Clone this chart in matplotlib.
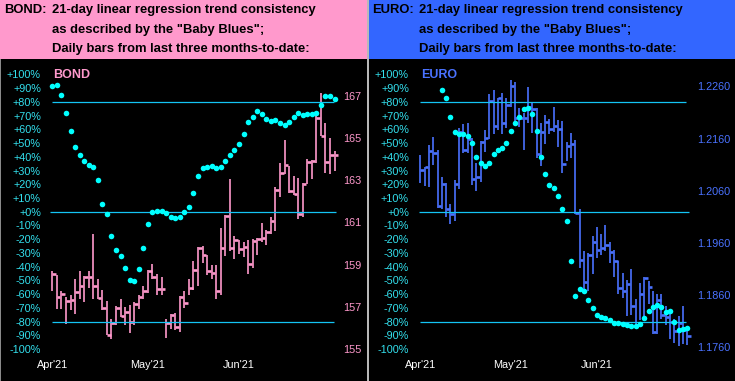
import matplotlib
matplotlib.use('Agg')
import matplotlib.pyplot as plt
from matplotlib.patches import Rectangle
import numpy as np

plt.rcParams['font.family'] = ['Liberation Sans', 'DejaVu Sans']

# x axis: trading day index of the first bar of each month
month_labels = ["Apr'21", "May'21", "Jun'21"]
month_starts = [0, 21, 41]

# BOND daily bars (high / low / close) and "Baby Blues" (%)
bond_high = [158.68, 158.49, 157.73, 157.46, 157.54, 158.30, 158.68, 158.44, 158.68, 160.45,
             158.33, 157.78, 157.26, 156.40, 157.03, 157.38, 156.99, 157.07, 157.22, 157.54,
             157.98, 158.72, 159.03, 158.55, 158.41, 156.43, 156.64, 156.70, 157.49, 157.76,
             158.31, 159.15, 159.83, 159.88, 159.44, 158.96, 158.96, 160.73, 161.33, 163.05,
             160.35, 160.15, 160.05, 160.15, 160.21, 160.26, 160.97, 160.62, 161.25, 162.68,
             163.81, 164.90, 163.67, 163.20, 163.10, 162.85, 163.99, 163.94, 166.23, 167.13,
             165.71, 165.00, 164.37]
bond_low = [157.76, 156.91, 156.91, 156.20, 156.83, 156.67, 157.35, 157.22, 157.89, 157.38,
            157.35, 156.83, 155.64, 155.45, 156.12, 156.51, 156.12, 155.77, 156.15, 156.91,
            157.35, 157.67, 158.33, 157.54, 157.54, 155.52, 155.96, 155.88, 155.80, 156.96,
            157.54, 157.78, 157.98, 159.09, 158.52, 158.30, 157.38, 157.54, 159.40, 159.64,
            159.28, 159.48, 159.36, 158.57, 158.85, 159.47, 160.07, 159.94, 160.43, 160.61,
            162.22, 163.31, 162.41, 162.28, 161.17, 161.25, 162.83, 163.07, 163.83, 165.09,
            163.35, 163.31, 163.45]
bond_close = [158.54, 157.48, 157.62, 157.26, 157.33, 157.71, 157.99, 158.42, 158.42, 157.99,
              157.43, 156.96, 155.68, 156.24, 156.96, 156.58, 156.77, 156.29, 157.15, 157.45,
              157.75, 158.68, 158.41, 157.86, 157.86, 156.24, 156.62, 156.04, 157.46, 157.19,
              157.90, 158.76, 159.80, 159.47, 158.69, 158.61, 157.75, 159.80, 161.28, 159.80,
              160.18, 159.74, 159.85, 159.04, 160.13, 160.23, 160.27, 160.56, 161.08, 162.55,
              163.35, 163.73, 162.50, 162.34, 161.41, 162.83, 163.84, 163.92, 165.96, 165.11,
              163.84, 164.21, 164.21]
bond_blues = [91.8, 92.6, 85.3, 72.2, 59.1, 47.5, 41.7, 36.8, 33.7, 32.9,
              22.8, 6.0, -2.0, -17.7, -27.9, -32.5, -41.2, -50.0, -50.7, -41.7,
              -26.5, -9.0, -0.3, 0.5, 0.5, -1.0, -3.9, -4.6, -3.9, -0.3,
              3.4, 13.5, 25.9, 31.7, 32.5, 33.2, 31.7, 32.5, 36.8, 41.2,
              44.8, 49.2, 56.6, 65.2, 68.8, 73.2, 71.0, 67.4, 65.9, 66.6,
              64.5, 63.0, 65.2, 68.8, 71.7, 70.3, 71.0, 71.0, 71.7, 77.5,
              84.1, 84.1, 81.9]

# EURO daily bars (high / low / close) and "Baby Blues" (%)
euro_high = [1.21288, 1.21065, 1.21480, 1.21639, 1.21384, 1.20874, 1.20747, 1.20346, 1.20811, 1.21811,
             1.21881, 1.21906, 1.21607, 1.21142, 1.21556, 1.21766, 1.22448, 1.22537, 1.22384, 1.22480,
             1.22384, 1.22722, 1.22690, 1.22193, 1.22085, 1.22594, 1.22295, 1.22193, 1.21906, 1.22053,
             1.21976, 1.22212, 1.21957, 1.21938, 1.21543, 1.21715, 1.21575, 1.20256, 1.19441, 1.19416,
             1.19728, 1.19900, 1.19766, 1.19951, 1.19626, 1.19473, 1.19263, 1.19021, 1.18900, 1.19110,
             1.18524, 1.18830, 1.18944, 1.18868, 1.18677, 1.18619, 1.18626, 1.18390, 1.18333, 1.18141,
             1.18199, 1.18403, 1.18008]
euro_low = [1.20747, 1.20702, 1.20683, 1.21097, 1.20269, 1.20250, 1.20091, 1.19963, 1.20014, 1.20632,
            1.21320, 1.21320, 1.20715, 1.20588, 1.20779, 1.21352, 1.21594, 1.21683, 1.21766, 1.21683,
            1.21798, 1.22199, 1.21894, 1.21817, 1.21384, 1.21894, 1.21702, 1.21225, 1.21078, 1.21492,
            1.21683, 1.21734, 1.21448, 1.20938, 1.21180, 1.21237, 1.20155, 1.19123, 1.18677, 1.18677,
            1.19008, 1.19314, 1.19377, 1.19441, 1.19218, 1.18944, 1.18632, 1.18549, 1.18212, 1.18231,
            1.18008, 1.18135, 1.18135, 1.18435, 1.17861, 1.17849, 1.18142, 1.18040, 1.17759, 1.17689,
            1.17638, 1.17670, 1.17645]
euro_close = [1.21002, 1.21053, 1.21371, 1.21320, 1.20301, 1.20734, 1.20256, 1.20148, 1.20734, 1.21734,
              1.21384, 1.21594, 1.20823, 1.20874, 1.21543, 1.21607, 1.22314, 1.21843, 1.22371, 1.21894,
              1.22238, 1.22601, 1.21989, 1.21989, 1.21989, 1.22199, 1.22161, 1.21314, 1.21722, 1.21925,
              1.21779, 1.21836, 1.21779, 1.21110, 1.21454, 1.21492, 1.20174, 1.19269, 1.18855, 1.19377,
              1.19619, 1.19467, 1.19505, 1.19562, 1.19422, 1.19250, 1.18740, 1.18677, 1.18823, 1.18403,
              1.18040, 1.18626, 1.18932, 1.18760, 1.17899, 1.18511, 1.18218, 1.18180, 1.18097, 1.17925,
              1.18072, 1.17944, 1.17823]
euro_blues = [np.nan, np.nan, np.nan, np.nan, np.nan, 88.9, 82.6, 68.8, 57.9, 56.7,
              56.7, 55.0, 49.9, 40.2, 35.4, 33.2, 35.4, 41.9, 44.8, 46.3,
              49.9, 58.6, 64.5, 68.8, 74.6, 75.4, 71.0, 58.6, 40.2, 27.4,
              19.4, 17.2, 11.4, 1.9, -6.8, -35.9, -61.4, -56.3, -57.7, -64.3,
              -70.1, -75.2, -76.6, -77.4, -78.8, -81.0, -81.0, -81.7, -82.5, -83.2,
              -83.2, -81.7, -77.4, -72.3, -69.4, -67.9, -69.4, -73.0, -72.3, -80.3,
              -86.1, -85.4, -84.6]

pct_ticks = list(range(-100, 101, 10))
bond_ticks = [155, 157, 159, 161, 163, 165, 167]
euro_ticks = [1.1760, 1.1860, 1.1960, 1.2060, 1.2160, 1.2260]

W, H = 735, 381
PINK = '#ff99cc'
BLUE = '#3366ff'
CYAN_TXT = '#33e0ee'
DOT = '#00ffff'
LINE = '#14c4f4'

fig = plt.figure(figsize=(W / 100, H / 100), dpi=100, facecolor='black')


def fx(px):
    return px / W


def fy(py):
    return 1 - py / H


# header strips
fig.add_artist(Rectangle((0, fy(59)), fx(367), 59 / H, transform=fig.transFigure,
                         facecolor=PINK, edgecolor='none'))
fig.add_artist(Rectangle((fx(369), fy(59)), fx(W - 369), 59 / H, transform=fig.transFigure,
                         facecolor=BLUE, edgecolor='none'))
fig.add_artist(Rectangle((fx(367), 0), fx(2), 1, transform=fig.transFigure,
                         facecolor='#b8b8b8', edgecolor='none'))
fig.add_artist(Rectangle((0, 0), fx(1), fy(59), transform=fig.transFigure,
                         facecolor='#8a8a8a', edgecolor='none'))

lines = ['21-day linear regression trend consistency',
         'as described by the "Baby Blues";',
         'Daily bars from last three months-to-date:']
for name, x0, x1 in [('BOND:', 4, 51.7), ('EURO:', 372.3, 419.3)]:
    fig.text(fx(x0), fy(13), name, fontsize=9.4, fontweight='bold', color='black', va='baseline')
    for k, s in enumerate(lines):
        fig.text(fx(x1), fy(13 + 19.6 * k), s, fontsize=9.4, fontweight='bold',
                 color='black', va='baseline')


def panel(left, right, x0, dx, high, low, close, blues, color, plim, pticks, pfmt, name):
    ax = fig.add_axes([fx(left), fy(349), fx(right - left), (349 - 74.5) / H])
    ax.set_facecolor('none')
    ax.set_xlim((left - x0) / dx, (right - x0) / dx)
    ax.set_ylim(-100, 100)
    ax2 = ax.twinx()
    ax2.set_ylim(*plim)
    for a in (ax, ax2):
        for sp in a.spines.values():
            sp.set_visible(False)

    x = np.arange(len(close))
    ax.hlines([80, -80], -0.1, 61.8, color=LINE, lw=0.9, zorder=1)
    ax.hlines([0], -0.4, 62.3, color=LINE, lw=0.9, zorder=1)
    ax2.vlines(x, low, high, color=color, lw=1.2, zorder=2)
    ax2.hlines(close, x, x + 0.8, color=color, lw=1.9, zorder=2)
    ax.set_zorder(ax2.get_zorder() + 1)
    ax.plot(x, blues, 'o', ms=4.0, color=DOT, mec='none', zorder=3)

    ax.set_yticks(pct_ticks, ['%+d%%' % v for v in pct_ticks])
    ax.tick_params(axis='y', length=0, pad=2.2, labelcolor=CYAN_TXT, labelsize=7.8)
    ax.set_xticks(month_starts, month_labels)
    ax.tick_params(axis='x', length=0, pad=8, labelcolor='white', labelsize=7.8)
    ax2.set_yticks(pticks, [pfmt % v for v in pticks])
    ax2.tick_params(axis='y', length=0, pad=2.2, labelcolor=color, labelsize=7.8)
    ax.text(0.1, 100, name, color=color, fontsize=9, fontweight='bold',
            va='center', ha='left', zorder=4)


panel(44, 340, 52.3, 4.553, bond_high, bond_low, bond_close, bond_blues,
      PINK, (155, 168), bond_ticks, '%d', 'BOND')
panel(412, 694, 420.3, 4.306, euro_high, euro_low, euro_close, euro_blues,
      '#4a72ff', (1.17571, 1.22829), euro_ticks, '%.4f', 'EURO')

fig.savefig('out.png', dpi=100, facecolor='black')
